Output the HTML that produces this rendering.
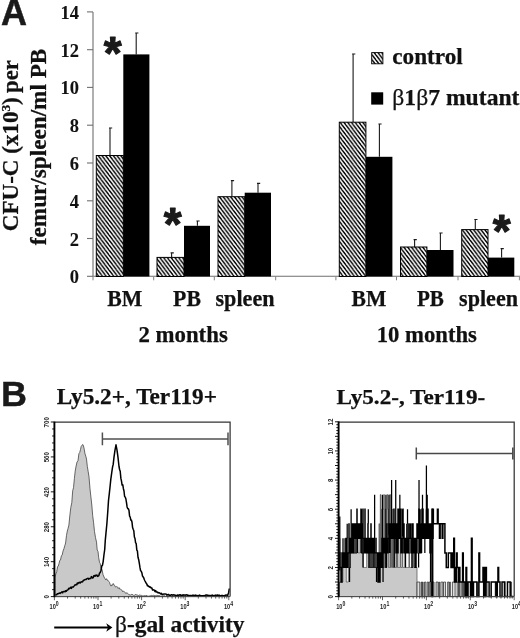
<!DOCTYPE html>
<html><head><meta charset="utf-8"><title>Figure</title>
<style>
html,body{margin:0;padding:0;background:#fff;}
svg{display:block;}
.tb{font-family:"Liberation Serif","DejaVu Serif",serif;font-weight:bold;fill:#111;stroke:#111;stroke-width:0.25px;}
.sb{font-family:"Liberation Sans","DejaVu Sans",sans-serif;font-weight:bold;fill:#1a1a1a;}
.sm{font-family:"Liberation Sans","DejaVu Sans",sans-serif;fill:#222;}
</style></head><body>
<svg width="520" height="638" viewBox="0 0 520 638">
<defs>
<pattern id="hatch" width="3.76" height="5" patternUnits="userSpaceOnUse">
<rect width="3.76" height="5" fill="#fff"/>
<path d="M-3.76,-5 L3.76,5 M0,-5 L7.52,5 M-7.52,-5 L0,5" stroke="#000" stroke-width="1.45"/>
</pattern>
</defs>
<rect width="520" height="638" fill="#fff"/>

<g stroke="#707070" stroke-width="1.1" fill="none">
<path d="M93,12.1 V276.3 H520"/>
<path d="M87,276.3 H93"/>
<path d="M87,238.5 H93"/>
<path d="M87,200.8 H93"/>
<path d="M87,163.0 H93"/>
<path d="M87,125.2 H93"/>
<path d="M87,87.4 H93"/>
<path d="M87,49.7 H93"/>
<path d="M87,11.9 H93"/>
</g>
<g stroke="#808080" stroke-width="1" fill="none">
<path d="M93,276.5 V280.3"/>
<path d="M153.7,276.5 V280.3"/>
<path d="M214.3,276.5 V280.3"/>
<path d="M275.7,276.5 V280.3"/>
<path d="M335.9,276.5 V280.3"/>
<path d="M396.5,276.5 V280.3"/>
<path d="M458,276.5 V280.3"/>
<path d="M519.4,276.5 V280.3"/>
</g>
<text class="tb" x="69.7" y="283.3" font-size="19.4" style="stroke-width:0.1px" textLength="9.25" lengthAdjust="spacingAndGlyphs">0</text>
<text class="tb" x="69.7" y="245.5" font-size="19.4" style="stroke-width:0.1px" textLength="9.25" lengthAdjust="spacingAndGlyphs">2</text>
<text class="tb" x="69.7" y="207.8" font-size="19.4" style="stroke-width:0.1px" textLength="9.25" lengthAdjust="spacingAndGlyphs">4</text>
<text class="tb" x="69.7" y="170.0" font-size="19.4" style="stroke-width:0.1px" textLength="9.25" lengthAdjust="spacingAndGlyphs">6</text>
<text class="tb" x="69.7" y="132.2" font-size="19.4" style="stroke-width:0.1px" textLength="9.25" lengthAdjust="spacingAndGlyphs">8</text>
<text class="tb" x="60.4" y="94.4" font-size="19.4" style="stroke-width:0.1px" textLength="18.5" lengthAdjust="spacingAndGlyphs">10</text>
<text class="tb" x="60.4" y="56.7" font-size="19.4" style="stroke-width:0.1px" textLength="18.5" lengthAdjust="spacingAndGlyphs">12</text>
<text class="tb" x="60.4" y="18.9" font-size="19.4" style="stroke-width:0.1px" textLength="18.5" lengthAdjust="spacingAndGlyphs">14</text>
<path d="M110,155.5 V128 M109,128 H112.2" stroke="#1a1a1a" stroke-width="1.1" fill="none"/>
<rect x="96.3" y="155.5" width="27.0" height="121.0" fill="url(#hatch)" stroke="#000" stroke-width="1"/>
<path d="M136.2,54.4 V33 M135.2,33 H138.39999999999998" stroke="#1a1a1a" stroke-width="1.1" fill="none"/>
<rect x="123.3" y="54.4" width="26.1" height="222.1" fill="#000"/>
<path d="M171.6,257.4 V252.9 M170.6,252.9 H173.79999999999998" stroke="#1a1a1a" stroke-width="1.1" fill="none"/>
<rect x="157" y="257.4" width="27.0" height="19.1" fill="url(#hatch)" stroke="#000" stroke-width="1"/>
<path d="M197.4,225.8 V221 M196.4,221 H199.6" stroke="#1a1a1a" stroke-width="1.1" fill="none"/>
<rect x="184" y="225.8" width="26.0" height="50.7" fill="#000"/>
<path d="M231.9,196.7 V180.6 M230.9,180.6 H234.1" stroke="#1a1a1a" stroke-width="1.1" fill="none"/>
<rect x="218" y="196.7" width="26.7" height="79.8" fill="url(#hatch)" stroke="#000" stroke-width="1"/>
<path d="M258,192.7 V183.4 M257,183.4 H260.2" stroke="#1a1a1a" stroke-width="1.1" fill="none"/>
<rect x="244.7" y="192.7" width="26.3" height="83.8" fill="#000"/>
<path d="M353.1,122.2 V54 M352.1,54 H355.3" stroke="#1a1a1a" stroke-width="1.1" fill="none"/>
<rect x="339.3" y="122.2" width="26.6" height="154.3" fill="url(#hatch)" stroke="#000" stroke-width="1"/>
<path d="M379.4,156.8 V124 M378.4,124 H381.59999999999997" stroke="#1a1a1a" stroke-width="1.1" fill="none"/>
<rect x="365.9" y="156.8" width="26.5" height="119.7" fill="#000"/>
<path d="M414.6,247 V239.6 M413.6,239.6 H416.8" stroke="#1a1a1a" stroke-width="1.1" fill="none"/>
<rect x="400.5" y="247" width="26.4" height="29.5" fill="url(#hatch)" stroke="#000" stroke-width="1"/>
<path d="M440.4,250 V233 M439.4,233 H442.59999999999997" stroke="#1a1a1a" stroke-width="1.1" fill="none"/>
<rect x="426.9" y="250" width="26.6" height="26.5" fill="#000"/>
<path d="M475.3,229.6 V219.5 M474.3,219.5 H477.5" stroke="#1a1a1a" stroke-width="1.1" fill="none"/>
<rect x="461.7" y="229.6" width="26.3" height="46.9" fill="url(#hatch)" stroke="#000" stroke-width="1"/>
<path d="M501.6,257.6 V248.6 M500.6,248.6 H503.8" stroke="#1a1a1a" stroke-width="1.1" fill="none"/>
<rect x="488" y="257.6" width="26.3" height="18.9" fill="#000"/>
<text class="sb" x="112.8" y="69" font-size="46" text-anchor="middle" stroke="#1a1a1a" stroke-width="1.1" stroke-linejoin="round">*</text>
<text class="sb" x="172.6" y="240.3" font-size="46" text-anchor="middle" stroke="#1a1a1a" stroke-width="1.1" stroke-linejoin="round">*</text>
<text class="sb" x="501.8" y="246.5" font-size="46" text-anchor="middle" stroke="#1a1a1a" stroke-width="1.1" stroke-linejoin="round">*</text>
<rect x="371.7" y="52.6" width="11.2" height="11.2" fill="url(#hatch)" stroke="#000" stroke-width="0.9"/>
<rect x="371.2" y="92.3" width="12" height="12.3" fill="#000"/>
<text class="tb" x="392.3" y="64.2" font-size="23.5" textLength="70.5" lengthAdjust="spacingAndGlyphs">control</text>
<text class="tb" x="392.3" y="105" font-size="23.5" textLength="127.2" lengthAdjust="spacingAndGlyphs"><tspan font-weight="normal">β</tspan>1<tspan font-weight="normal">β</tspan>7 mutant</text>
<text class="tb" x="107.3" y="306.4" font-size="22.3" textLength="35.0" lengthAdjust="spacingAndGlyphs">BM</text>
<text class="tb" x="173.1" y="306.4" font-size="22.3" textLength="27.8" lengthAdjust="spacingAndGlyphs">PB</text>
<text class="tb" x="215.5" y="306.4" font-size="22.3" textLength="59.0" lengthAdjust="spacingAndGlyphs">spleen</text>
<text class="tb" x="138.4" y="342.3" font-size="22.8" textLength="89.4" lengthAdjust="spacingAndGlyphs">2 months</text>
<text class="tb" x="351.6" y="306.4" font-size="22.3" textLength="34.8" lengthAdjust="spacingAndGlyphs">BM</text>
<text class="tb" x="416.9" y="306.4" font-size="22.3" textLength="27.0" lengthAdjust="spacingAndGlyphs">PB</text>
<text class="tb" x="459.1" y="306.4" font-size="22.3" textLength="58.9" lengthAdjust="spacingAndGlyphs">spleen</text>
<text class="tb" x="376.7" y="342.3" font-size="22.8" textLength="100.2" lengthAdjust="spacingAndGlyphs">10 months</text>
<text class="tb" transform="translate(17.6,231.2) rotate(-90)" font-size="22.5" textLength="134" lengthAdjust="spacingAndGlyphs">CFU-C (x10<tspan font-size="13" dy="-8">3</tspan><tspan dy="8">)</tspan></text>
<text class="tb" transform="translate(17.6,92.9) rotate(-90)" font-size="22.5" textLength="32.6" lengthAdjust="spacingAndGlyphs">per</text>
<text class="tb" transform="translate(45.8,245.2) rotate(-90)" font-size="22.5" textLength="196.5" lengthAdjust="spacingAndGlyphs">femur/spleen/ml PB</text>
<text class="sb" x="1.1" y="24.5" font-size="36.5" textLength="26" lengthAdjust="spacingAndGlyphs" stroke="#1a1a1a" stroke-width="0.5">A</text>
<text class="sb" x="1" y="406.3" font-size="34.3" textLength="26" lengthAdjust="spacingAndGlyphs" stroke="#1a1a1a" stroke-width="0.4">B</text>
<text class="tb" x="56.8" y="403.6" font-size="22.3" textLength="160.2" lengthAdjust="spacingAndGlyphs">Ly5.2+, Ter119+</text>
<text class="tb" x="336.5" y="403.8" font-size="22" textLength="148.7" lengthAdjust="spacingAndGlyphs">Ly5.2-, Ter119-</text>
<path d="M55,596.6 L55.0,577.5 L55.9,573.6 L56.7,571.8 L57.6,566.5 L58.3,566.1 L59.0,563.5 L59.8,560.4 L60.5,560.0 L61.4,555.8 L62.2,555.0 L63.0,551.1 L63.9,548.8 L64.8,545.7 L65.6,543.0 L66.5,535.3 L67.3,531.1 L68.1,528.3 L68.9,525.1 L69.8,515.9 L70.8,507.5 L71.8,502.6 L72.7,490.7 L73.5,487.7 L74.4,478.4 L75.2,471.1 L76.1,466.1 L77.0,462.1 L78.0,460.6 L78.9,453.7 L79.7,452.5 L80.5,449.6 L81.2,446.4 L82.0,445.2 L82.8,444.5 L83.5,446.0 L84.2,449.1 L85.0,453.8 L85.8,456.2 L86.5,459.1 L87.3,466.3 L88.2,471.7 L89.0,476.9 L90.0,488.8 L91.0,497.9 L91.8,505.0 L92.7,515.7 L93.6,522.8 L94.5,531.7 L95.5,537.6 L96.5,542.1 L97.2,550.0 L98.0,551.4 L98.7,557.7 L99.5,562.3 L100.2,563.4 L101.0,568.0 L102.0,569.5 L103.0,574.5 L104.0,577.0 L105.0,578.7 L105.8,579.9 L106.5,578.7 L107.2,580.2 L108.0,580.3 L108.8,581.5 L109.5,582.4 L110.2,584.6 L111.0,586.1 L111.8,584.8 L112.5,585.2 L113.2,583.5 L114.0,585.0 L114.7,585.5 L115.4,586.9 L116.1,587.1 L116.8,586.4 L117.5,587.2 L118.2,588.5 L119.0,587.6 L119.8,589.2 L120.5,589.2 L121.2,589.7 L122.0,590.2 L122.8,591.9 L123.6,591.1 L124.4,591.8 L125.2,592.4 L126.0,593.6 L126.8,592.6 L127.6,593.5 L128.4,594.0 L129.2,594.8 L130.0,595.0 L130.7,595.1 L131.4,594.3 L132.1,594.6 L132.9,594.6 L133.6,595.4 L134.3,595.5 L135.0,594.5 L135.7,594.6 L136.4,594.8 L137.1,594.9 L137.9,595.3 L138.6,595.5 L139.3,595.1 L140.0,594.9 L140.7,595.4 L141.4,595.4 L142.1,595.6 L142.9,596.1 L143.6,595.8 L144.3,595.6 L145.0,595.8 L145.7,595.9 L146.4,595.1 L147.1,596.2 L147.9,596.0 L148.6,596.2 L149.3,596.1 L150.0,595.6 L150.7,595.7 L151.4,595.3 L152.1,596.0 L152.9,595.3 L153.6,595.3 L154.3,595.5 L155.0,595.5 L155.7,595.7 L156.4,595.4 L157.1,595.4 L157.9,595.6 L158.6,595.5 L159.3,595.8 L160.0,595.5 L160.7,596.3 L161.4,596.1 L162.1,595.6 L162.8,595.7 L163.5,595.8 L164.2,595.9 L164.9,595.6 L165.6,596.3 L166.3,596.3 L167.0,596.0 L167.7,596.0 L168.4,595.6 L169.2,595.6 L169.9,595.8 L170.6,595.7 L171.3,596.3 L172.0,595.6 L172.7,595.5 L173.4,596.3 L174.1,596.0 L174.8,595.6 L175.5,596.0 L176.2,595.5 L176.9,596.0 L177.6,596.3 L178.3,596.3 L179.0,596.2 L179.7,595.7 L180.4,595.9 L181.1,595.6 L181.8,596.3 L182.5,596.0 L183.2,596.3 L183.9,595.8 L184.6,595.7 L185.3,596.3 L186.1,596.3 L186.8,596.3 L187.5,596.3 L188.2,596.3 L188.9,596.3 L189.6,595.7 L190.3,596.0 L191.0,595.8 L191.7,595.5 L192.4,595.5 L193.1,595.8 L193.8,595.7 L194.5,596.2 L195.2,596.3 L195.9,595.9 L196.6,596.3 L197.3,596.3 L198.0,596.3 L198.7,595.9 L199.4,595.7 L200.1,595.7 L200.8,595.7 L201.5,595.7 L202.2,596.1 L202.9,596.3 L203.7,596.3 L204.4,596.0 L205.1,596.2 L205.8,596.3 L206.5,595.5 L207.2,596.2 L207.9,596.3 L208.6,596.3 L209.3,596.3 L210.0,596.0 L210.7,595.7 L211.4,596.3 L212.1,595.8 L212.8,596.3 L213.5,596.3 L214.2,595.9 L214.9,595.9 L215.6,596.3 L216.3,596.2 L217.0,595.6 L217.7,595.6 L218.4,595.6 L219.1,596.3 L219.8,596.3 L220.6,595.6 L221.3,596.3 L222.0,596.3 L222.7,596.2 L223.4,595.8 L224.1,596.1 L224.8,595.6 L225.5,595.5 L226.2,596.3 L226.9,596.2 L227.6,596.0 L228.3,596.3 L229.0,596.0 L229,596.6 Z" fill="#c9c9c9" stroke="#444" stroke-width="0.8" stroke-linejoin="round"/>
<path d="M55.5,594.4 L56.1,594.8 L56.8,594.7 L57.4,593.7 L58.0,593.7 L58.7,593.5 L59.3,593.1 L60.0,593.4 L60.7,592.7 L61.3,592.6 L62.0,591.9 L62.6,592.8 L63.2,591.7 L63.8,591.6 L64.4,591.5 L65.1,591.8 L65.7,590.7 L66.3,591.3 L66.9,590.3 L67.5,590.1 L68.1,589.7 L68.8,588.4 L69.4,588.8 L70.1,588.0 L70.7,587.3 L71.4,588.4 L72.0,586.9 L72.7,586.9 L73.3,587.0 L74.0,586.1 L74.7,585.1 L75.3,585.0 L76.0,584.6 L76.7,584.8 L77.3,583.0 L78.0,583.6 L78.7,582.6 L79.3,582.3 L80.0,583.1 L80.7,582.1 L81.3,581.8 L82.0,581.9 L82.7,581.8 L83.3,580.3 L84.0,580.3 L84.7,579.7 L85.4,579.4 L86.1,579.6 L86.8,578.7 L87.5,578.6 L88.1,578.2 L88.8,579.2 L89.4,578.4 L90.1,578.6 L90.7,578.6 L91.4,576.6 L92.0,577.2 L92.6,578.0 L93.2,577.7 L93.8,575.7 L94.4,575.6 L95.1,576.3 L95.7,575.2 L96.3,575.5 L96.9,575.0 L97.5,576.4 L98.2,576.1 L98.8,575.7 L99.5,573.1 L100.2,572.6 L101.0,570.5 L101.8,565.9 L102.5,565.2 L103.2,561.3 L104.0,554.5 L104.7,549.7 L105.3,540.1 L106.0,532.9 L106.9,523.5 L107.8,511.3 L108.5,500.6 L109.3,493.7 L110.0,487.1 L110.8,479.4 L111.7,472.8 L112.5,467.3 L113.2,464.4 L114.0,457.1 L115.0,450.2 L116.0,444.8 L117.0,450.1 L118.0,457.3 L119.0,466.5 L119.6,469.5 L120.2,471.3 L120.9,478.4 L121.5,481.2 L122.1,485.1 L122.8,484.8 L123.4,488.7 L124.0,491.0 L124.6,496.5 L125.2,497.0 L125.9,499.0 L126.5,502.7 L127.1,506.9 L127.8,508.8 L128.4,508.8 L129.0,510.6 L129.6,516.1 L130.2,517.1 L130.8,520.0 L131.4,520.0 L132.0,522.2 L132.6,527.6 L133.2,529.3 L133.8,530.7 L134.4,537.0 L135.0,538.5 L135.6,542.8 L136.2,543.6 L136.8,550.1 L137.4,550.9 L138.0,557.2 L138.7,559.7 L139.3,563.2 L140.0,567.7 L140.6,570.9 L141.2,571.1 L141.9,572.9 L142.5,576.1 L143.1,576.8 L143.8,578.0 L144.4,579.7 L145.0,581.0 L145.6,582.1 L146.2,583.2 L146.8,584.0 L147.4,585.7 L148.0,585.6 L148.6,586.5 L149.3,586.4 L149.9,587.2 L150.6,587.1 L151.2,588.0 L151.9,588.1 L152.5,589.9 L153.1,589.9 L153.8,589.7 L154.4,590.5 L155.1,591.6 L155.7,590.6 L156.4,592.1 L157.0,591.9 L157.6,592.2 L158.2,593.0 L158.9,592.5 L159.5,592.9 L160.1,593.4 L160.8,594.0 L161.4,593.4 L162.0,594.2 L162.6,594.2 L163.2,594.2 L163.8,594.1 L164.4,594.1 L165.1,593.9 L165.7,594.1 L166.3,594.2 L166.9,595.2 L167.5,594.7 L168.1,594.6 L168.8,594.5 L169.4,595.4 L170.0,595.5 L170.6,595.3 L171.2,594.8 L171.9,594.8 L172.5,594.9 L173.1,595.1 L173.8,594.8 L174.4,595.1 L175.0,594.9 L175.6,595.7 L176.2,595.7 L176.9,595.3 L177.5,595.0 L178.1,595.8 L178.8,595.1 L179.4,595.1 L180.0,594.7 L180.6,595.2 L181.2,595.3 L181.8,595.3 L182.4,595.0 L183.0,595.3 L183.6,594.8 L184.2,595.1 L184.8,594.9 L185.5,595.2 L186.1,594.9 L186.7,594.8 L187.3,595.2 L187.9,595.1 L188.5,595.5 L189.1,595.4 L189.7,595.7 L190.3,595.6 L190.9,595.6 L191.5,595.8 L192.1,595.3 L192.7,595.2 L193.3,596.0 L193.9,595.1 L194.5,595.7 L195.2,595.6 L195.8,595.0 L196.4,595.8 L197.0,595.9 L197.6,595.6 L198.2,595.7 L198.8,595.8 L199.4,595.1 L200.0,595.5 L200.6,595.5 L201.2,595.9 L201.8,595.8 L202.4,595.8 L203.1,595.6 L203.7,595.9 L204.3,595.7 L204.9,595.7 L205.5,595.2 L206.1,595.0 L206.7,595.1 L207.3,595.4 L207.9,595.1 L208.6,595.9 L209.2,595.6 L209.8,595.6 L210.4,595.6 L211.0,595.7 L211.6,595.5 L212.2,595.0 L212.8,595.8 L213.4,595.8 L214.1,595.5 L214.7,595.5 L215.3,595.7 L215.9,595.0 L216.5,595.8 L217.1,595.2 L217.7,595.0 L218.3,595.3 L218.9,595.7 L219.6,595.2 L220.2,595.8 L220.8,596.0 L221.4,595.5 L222.0,595.4 L222.6,595.5 L223.2,595.7 L223.8,595.8 L224.4,595.6 L225.1,595.7 L225.7,595.0 L226.3,595.1 L226.9,595.2 L227.5,595.8 L228.6,592.7 L229.3,588.5" fill="none" stroke="#000" stroke-width="1.5" stroke-linejoin="round"/>
<path d="M102.4,438.9 H228 M102.4,432.6 V445.2 M228,432.6 V445.2" stroke="#505050" stroke-width="1.5" fill="none"/>
<path d="M54.4,422.2 H230.1 V596.6" stroke="#333" stroke-width="1.25" fill="none"/>
<path d="M54.4,596.6 H230.1" stroke="#4a4a4a" stroke-width="1" fill="none"/>
<path d="M54.4,421.6 V597.2" stroke="#000" stroke-width="1.9" fill="none"/>
<path d="M50.8,596.60 H54.4 M52.1,589.62 H54.4 M52.1,582.63 H54.4 M52.1,575.65 H54.4 M52.1,568.66 H54.4 M50.8,561.68 H54.4 M52.1,554.70 H54.4 M52.1,547.71 H54.4 M52.1,540.73 H54.4 M52.1,533.74 H54.4 M50.8,526.76 H54.4 M52.1,519.78 H54.4 M52.1,512.79 H54.4 M52.1,505.81 H54.4 M52.1,498.82 H54.4 M50.8,491.84 H54.4 M52.1,484.86 H54.4 M52.1,477.87 H54.4 M52.1,470.89 H54.4 M52.1,463.90 H54.4 M50.8,456.92 H54.4 M52.1,449.94 H54.4 M52.1,442.95 H54.4 M52.1,435.97 H54.4 M52.1,428.98 H54.4 M50.8,422.00 H54.4 " stroke="#000" stroke-width="0.9" fill="none"/>
<text class="sm" transform="translate(48.699999999999996,596.9) rotate(-90) scale(0.84,1)" font-size="7.3" font-weight="bold" text-anchor="middle">0</text>
<text class="sm" transform="translate(48.699999999999996,562.0) rotate(-90) scale(0.84,1)" font-size="7.3" font-weight="bold" text-anchor="middle">140</text>
<text class="sm" transform="translate(48.699999999999996,527.1) rotate(-90) scale(0.84,1)" font-size="7.3" font-weight="bold" text-anchor="middle">280</text>
<text class="sm" transform="translate(48.699999999999996,492.1) rotate(-90) scale(0.84,1)" font-size="7.3" font-weight="bold" text-anchor="middle">420</text>
<text class="sm" transform="translate(48.699999999999996,457.2) rotate(-90) scale(0.84,1)" font-size="7.3" font-weight="bold" text-anchor="middle">560</text>
<text class="sm" transform="translate(48.699999999999996,422.3) rotate(-90) scale(0.84,1)" font-size="7.3" font-weight="bold" text-anchor="middle">700</text>
<path d="M54.40,596.6 V600.2 M67.52,596.6 V598.6 M75.20,596.6 V598.6 M80.65,596.6 V598.6 M84.88,596.6 V598.6 M88.33,596.6 V598.6 M91.25,596.6 V598.6 M93.77,596.6 V598.6 M96.00,596.6 V598.6 M98.00,596.6 V600.2 M111.12,596.6 V598.6 M118.80,596.6 V598.6 M124.25,596.6 V598.6 M128.48,596.6 V598.6 M131.93,596.6 V598.6 M134.85,596.6 V598.6 M137.37,596.6 V598.6 M139.60,596.6 V598.6 M141.60,596.6 V600.2 M154.72,596.6 V598.6 M162.40,596.6 V598.6 M167.85,596.6 V598.6 M172.08,596.6 V598.6 M175.53,596.6 V598.6 M178.45,596.6 V598.6 M180.97,596.6 V598.6 M183.20,596.6 V598.6 M185.20,596.6 V600.2 M198.32,596.6 V598.6 M206.00,596.6 V598.6 M211.45,596.6 V598.6 M215.68,596.6 V598.6 M219.13,596.6 V598.6 M222.05,596.6 V598.6 M224.57,596.6 V598.6 M226.80,596.6 V598.6 M228.80,596.6 V600.2 " stroke="#222" stroke-width="0.7" fill="none"/>
<text class="sm" transform="translate(49.5,608.5) scale(0.7,1)" font-size="8.1" font-weight="bold">10<tspan font-size="7.4" dy="-3">0</tspan></text>
<text class="sm" transform="translate(93.1,608.5) scale(0.7,1)" font-size="8.1" font-weight="bold">10<tspan font-size="7.4" dy="-3">1</tspan></text>
<text class="sm" transform="translate(136.7,608.5) scale(0.7,1)" font-size="8.1" font-weight="bold">10<tspan font-size="7.4" dy="-3">2</tspan></text>
<text class="sm" transform="translate(180.3,608.5) scale(0.7,1)" font-size="8.1" font-weight="bold">10<tspan font-size="7.4" dy="-3">3</tspan></text>
<text class="sm" transform="translate(223.9,608.5) scale(0.7,1)" font-size="8.1" font-weight="bold">10<tspan font-size="7.4" dy="-3">4</tspan></text>
<path d="M54.2,627.5 H109" stroke="#000" stroke-width="1.8" fill="none"/>
<path d="M112.4,627.5 L106.2,623.3 L108,627.5 L106.2,631.7 Z" fill="#000"/>
<text class="tb" x="115" y="631.7" font-size="22.8" textLength="129.5" lengthAdjust="spacingAndGlyphs"><tspan font-weight="normal">β</tspan>-gal activity</text>
<path d="M339.50,596.6 V582.03 H340.18 V582.03 H340.86 V582.03 H341.54 V582.03 H342.22 V582.03 H342.90 V567.47 H343.58 V567.47 H344.26 V567.47 H344.94 V567.47 H345.62 V567.47 H346.30 V582.03 H346.98 V582.03 H347.66 V582.03 H348.34 V552.90 H349.02 V552.90 H349.70 V552.90 H350.38 V552.90 H351.06 V552.90 H351.74 V552.90 H352.42 V538.33 H353.10 V552.90 H353.78 V552.90 H354.46 V552.90 H355.14 V552.90 H355.82 V552.90 H356.50 V552.90 H357.18 V523.77 H357.86 V552.90 H358.54 V552.90 H359.22 V552.90 H359.90 V538.33 H360.58 V552.90 H361.26 V552.90 H361.94 V552.90 H362.62 V552.90 H363.30 V567.47 H363.98 V567.47 H364.66 V567.47 H365.34 V567.47 H366.02 V567.47 H366.70 V552.90 H367.38 V552.90 H368.06 V552.90 H368.74 V552.90 H369.42 V567.47 H370.10 V567.47 H370.78 V567.47 H371.46 V567.47 H372.14 V567.47 H372.82 V567.47 H373.50 V552.90 H374.18 V567.47 H374.86 V567.47 H375.54 V567.47 H376.22 V567.47 H376.90 V567.47 H377.58 V567.47 H378.26 V567.47 H378.94 V523.77 H379.62 V567.47 H380.30 V494.63 H380.98 V567.47 H381.66 V509.20 H382.34 V567.47 H383.02 V509.20 H383.71 V494.63 H384.39 V567.47 H385.07 V509.20 H385.75 V567.47 H386.43 V523.77 H387.11 V494.63 H387.79 V509.20 H388.47 V567.47 H389.15 V567.47 H389.83 V494.63 H390.51 V567.47 H391.19 V523.77 H391.87 V567.47 H392.55 V509.20 H393.23 V567.47 H393.91 V523.77 H394.59 V567.47 H395.27 V567.47 H395.95 V538.33 H396.63 V567.47 H397.31 V523.77 H397.99 V567.47 H398.67 V567.47 H399.35 V567.47 H400.03 V538.33 H400.71 V567.47 H401.39 V567.47 H402.07 V552.90 H402.75 V567.47 H403.43 V567.47 H404.11 V567.47 H404.79 V538.33 H405.47 V567.47 H406.15 V567.47 H406.83 V567.47 H407.51 V567.47 H408.19 V567.47 H408.87 V552.90 H409.55 V567.47 H410.23 V567.47 H410.91 V567.47 H411.59 V567.47 H412.27 V567.47 H412.95 V552.90 H413.63 V567.47 H414.31 V567.47 H414.99 V567.47 H415.67 V567.47 H416.35 V567.47 H417.03 V596.6 Z" fill="#c9c9c9" stroke="#333" stroke-width="0.6"/>
<path d="M417.03,596.6 V582.03 H417.71 V582.03 H418.39 V582.03 H419.07 V582.03 H419.75 V596.60 H420.43 V596.60 H421.11 V582.03 H421.79 V596.60 H422.47 V582.03 H423.15 V596.60 H423.83 V596.60 H424.51 V582.03 H425.19 V582.03 H425.87 V596.60 H426.55 V596.60 H427.23 V582.03 H427.91 V582.03 H428.59 V596.60 H429.27 V582.03 H429.95 V582.03 H430.63 V596.60 H431.31 V582.03 H431.99 V596.60 H432.67 V582.03 H433.35 V582.03 H434.03 V596.60 H434.71 V596.60 H435.39 V596.60 H436.07 V582.03 H436.75 V582.03 H437.43 V582.03 H438.11 V596.60 H438.79 V582.03 H439.47 V596.60 H440.15 V596.60 H440.83 V582.03 H441.51 V582.03 H442.19 V582.03 H442.87 V596.60 H443.55 V582.03 H444.23 V582.03 H444.91 V582.03 H445.59 V596.60 H446.27 V596.60 H446.95 V596.60 H447.63 V582.03 H448.31 V582.03 H448.99 V596.60 H449.67 V582.03 H450.35 V596.60 H451.03 V596.60 H451.71 V596.60 H452.39 V582.03 H453.07 V582.03 H453.75 V582.03 H454.43 V582.03 H455.11 V596.60 H455.79 V596.60 H456.47 V596.60 H457.15 V582.03 H457.83 V582.03 H458.51 V596.60 H459.19 V582.03 H459.87 V596.60 H460.55 V596.60 H461.23 V582.03 H461.91 V582.03 H462.59 V596.60 H463.27 V582.03 H463.95 V596.60 H464.63 V582.03 H465.31 V582.03 H465.99 V596.60 H466.67 V596.60 H467.35 V596.60 H468.03 V596.60 H468.71 V596.60 H469.39 V596.60 H470.08 V582.03 H470.76 V582.03 H471.44 V596.60 H472.12 V596.60 H472.80 V596.60 H473.48 V596.60 H474.16 V596.60 H474.84 V596.60 H475.52 V596.60 H476.20 V596.60 H476.88 V596.60 H477.56 V582.03 H478.24 V596.60 H478.92 V596.60 H479.60 V596.60 H480.28 V596.60 H480.96 V596.60 H481.64 V596.60 H482.32 V596.60 H483.00 V596.60 H483.68 V596.60 H484.36 V596.60 H485.04 V596.60 H485.72 V596.60 H486.40 V582.03 H487.08 V596.60 H487.76 V596.60 H488.44 V596.60 H489.12 V596.60 H489.80 V596.60 H490.48 V596.60 H491.16 V596.60 H491.84 V596.60 H492.52 V596.60 H493.20 V596.60 H493.88 V596.60 H494.56 V596.60 H495.24 V582.03 H495.92 V596.60 H496.60 V596.60 H497.28 V596.60 H497.96 V596.60 H498.64 V596.60 H499.32 V596.60 H500.00 V596.60 H500.68 V596.60 H501.36 V596.60 H502.04 V596.60 H502.72 V596.60 H503.40 V596.60 H504.08 V582.03 H504.76 V596.60 H505.44 V596.60 H506.12 V596.60 H506.80 V596.60 H507.48 V596.60 H508.16 V596.60 H508.84 V596.60 H509.52 V596.60 H510.20 V596.60 H510.88 V582.03 H511.56 V596.60 H512.24 V596.60 H512.92 V596.60 H513.60 V596.6 Z" fill="#dedede" stroke="#2a2a2a" stroke-width="0.75"/>
<path d="M339.50,568.07 V552.30 M340.50,582.63 V566.87 M341.50,582.63 V552.30 M342.50,568.07 V552.30 M343.50,568.07 V552.30 M344.50,568.07 V552.30 M345.50,568.07 V537.73 M346.50,568.07 V537.73 M347.50,568.07 V552.30 M348.50,553.50 V523.17 M349.50,568.07 V537.73 M350.50,553.50 V537.73 M351.50,553.50 V523.17 M352.50,553.50 V523.17 M353.50,553.50 V523.17 M354.50,538.93 V523.17 M355.50,553.50 V523.17 M356.50,538.93 V508.60 M357.50,538.93 V523.17 M358.50,538.93 V523.17 M359.50,538.93 V523.17 M360.50,538.93 V508.60 M361.50,553.50 V523.17 M362.50,538.93 V508.60 M363.50,553.50 V537.73 M364.50,553.50 V508.60 M365.50,553.50 V537.73 M366.50,553.50 V537.73 M367.50,553.50 V523.17 M368.50,568.07 V537.73 M369.50,553.50 V537.73 M370.50,568.07 V523.17 M371.50,553.50 V537.73 M372.50,568.07 V537.73 M373.50,553.50 V537.73 M374.50,568.07 V552.30 M375.50,553.50 V537.73 M376.50,568.07 V552.30 M377.50,582.63 V552.30 M378.50,582.63 V552.30 M379.50,582.63 V552.30 M380.50,568.07 V552.30 M381.50,568.07 V537.73 M382.50,568.07 V537.73 M383.50,553.50 V537.73 M384.50,553.50 V537.73 M385.50,568.07 V537.73 M386.50,553.50 V523.17 M387.50,553.50 V537.73 M388.50,538.93 V523.17 M389.50,538.93 V523.17 M390.50,538.93 V523.17 M391.50,538.93 V523.17 M392.50,538.93 V523.17 M393.50,538.93 V508.60 M394.50,538.93 V523.17 M395.50,553.50 V523.17 M396.50,553.50 V523.17 M397.50,553.50 V508.60 M398.50,538.93 V508.60 M399.50,538.93 V508.60 M400.50,553.50 V508.60 M401.50,553.50 V537.73 M402.50,538.93 V508.60 M403.50,553.50 V523.17 M404.50,553.50 V537.73 M405.50,553.50 V537.73 M406.50,553.50 V537.73 M407.50,553.50 V523.17 M408.50,553.50 V537.73 M409.50,538.93 V523.17 M410.50,553.50 V537.73 M411.50,568.07 V523.17 M412.50,553.50 V523.17 M413.50,553.50 V537.73 M414.50,568.07 V537.73 M415.50,568.07 V537.73 M416.50,553.50 V523.17 M417.50,538.93 V523.17 M418.50,553.50 V508.60 M419.50,553.50 V523.17 M420.50,553.50 V523.17 M421.50,538.93 V508.60 M422.50,538.93 V508.60 M423.50,538.93 V523.17 M424.50,538.93 V523.17 M425.50,538.93 V523.17 M426.50,538.93 V508.60 M427.50,538.93 V508.60 M428.50,538.93 V523.17 M429.50,553.50 V523.17 M430.50,553.50 V523.17 M431.50,538.93 V508.60 M432.50,538.93 V523.17 " stroke="#000" stroke-width="1.5" fill="none" transform="translate(0.5,0)"/>
<path d="M339.95,552.90 V538.33 M340.79,582.03 V582.03 M341.74,582.03 V582.03 M343.00,552.90 V538.33 M345.07,552.90 V538.33 M347.20,538.33 V523.77 M349.54,567.47 V582.03 M357.54,538.33 V552.90 M361.23,538.33 V552.90 M361.61,523.77 V509.20 M363.01,538.33 V567.47 M368.30,523.77 V509.20 M374.64,552.90 V523.77 M376.53,567.47 V582.03 M383.04,567.47 V582.03 M386.57,552.90 V567.47 M389.17,538.33 V552.90 M390.10,538.33 V552.90 M394.24,538.33 V567.47 M399.85,509.20 V494.63 M402.81,538.33 V552.90 M405.52,552.90 V567.47 M406.78,538.33 V523.77 M407.52,523.77 V509.20 M409.06,538.33 V523.77 M410.66,538.33 V523.77 M418.59,552.90 V567.47 M420.16,523.77 V509.20 M421.61,538.33 V552.90 M424.84,538.33 V552.90 M426.24,523.77 V509.20 M427.23,509.20 V494.63 M430.52,552.90 V582.03 M339.80,570.38 V516.48 M351.12,545.91 V509.20 M374.62,552.90 V494.63 M382.45,554.94 V494.63 M385.94,544.16 V494.63 M391.59,529.16 V480.07 M395.73,530.61 V480.07 M402.48,536.59 V509.20 M419.02,535.42 V480.07 M426.41,529.01 V465.50 M422.50,523.77 V494.63 M388.98,535.27 V494.63 " stroke="#000" stroke-width="1.25" fill="none"/>
<path d="M431.99,538.33 V596.60 H432.67 V509.20 H433.35 V523.77 H434.03 V523.77 H434.71 V523.77 H435.39 V523.77 H436.07 V523.77 H436.75 V523.77 H437.43 V509.20 H438.11 V523.77 H438.79 V523.77 H439.47 V538.33 H440.15 V523.77 H440.83 V523.77 H441.51 V523.77 H442.19 V538.33 H442.87 V523.77 H443.55 V523.77 H444.23 V523.77 H444.91 V552.90 H445.59 V552.90 H446.27 V567.47 H446.95 V567.47 H447.63 V567.47 H448.31 V552.90 H448.99 V552.90 H449.67 V552.90 H450.35 V552.90 H451.03 V567.47 H451.71 V552.90 H452.39 V567.47 H453.07 V567.47 H453.75 V538.33 H454.43 V582.03 H455.11 V567.47 H455.79 V582.03 H456.47 V552.90 H457.15 V567.47 H457.83 V567.47 H458.51 V582.03 H459.19 V567.47 H459.87 V582.03 H460.55 V582.03 H461.23 V582.03 H461.91 V582.03 H462.59 V552.90 H463.27 V582.03 H463.95 V582.03 H464.63 V582.03 H465.31 V596.60 H465.99 V567.47 H466.67 V596.60 H467.35 V596.60 H468.03 V582.03 H468.71 V582.03 H469.39 V582.03 H470.08 V582.03 H470.76 V596.60 H471.44 V538.33 H472.12 V596.60 H472.80 V596.60 H473.48 V582.03 H474.16 V582.03 H474.84 V582.03 H475.52 V582.03 H476.20 V582.03 H476.88 V596.60 H477.56 V596.60 H478.24 V596.60 H478.92 V552.90 H479.60 V582.03 H480.28 V582.03 H480.96 V582.03 H481.64 V582.03 H482.32 V582.03 H483.00 V567.47 H483.68 V596.60 H484.36 V567.47 H485.04 V596.60 H485.72 V567.47 H486.40 V582.03 H487.08 V582.03 H487.76 V582.03 H488.44 V582.03 H489.12 V596.60 H489.80 V596.60 H490.48 V596.60 H491.16 V582.03 H491.84 V582.03 H492.52 V582.03 H493.20 V582.03 H493.88 V582.03 H494.56 V582.03 H495.24 V582.03 H495.92 V596.60 H496.60 V596.60 H497.28 V582.03 H497.96 V567.47 H498.64 V582.03 H499.32 V582.03 H500.00 V596.60 H500.68 V596.60 H501.36 V596.60 H502.04 V582.03 H502.72 V582.03 H503.40 V582.03 H504.08 V582.03 H504.76 V596.60 H505.44 V596.60 H506.12 V596.60 H506.80 V596.60 H507.48 V582.03 H508.16 V582.03 H508.84 V582.03 H509.52 V582.03 H510.20 V596.60 H510.88 V596.60 H511.56 V596.60 H512.24 V596.60 H512.92 V596.60 H513.60 " fill="none" stroke="#000" stroke-width="1.5" stroke-linejoin="miter"/>
<path d="M416.3,453.6 H512.8 M416.3,447.6 V459.4 M512.8,447.6 V459.4" stroke="#484848" stroke-width="1.5" fill="none"/>
<path d="M338.6,422.0 H514.2 V596.6" stroke="#333" stroke-width="1.25" fill="none"/>
<path d="M338.6,596.6 H514.2" stroke="#4a4a4a" stroke-width="1" fill="none"/>
<path d="M338.6,421.40000000000003 V597.2" stroke="#000" stroke-width="1.9" fill="none"/>
<path d="M335.0,596.60 H338.6 M336.3,593.69 H338.6 M336.3,590.77 H338.6 M336.3,587.86 H338.6 M336.3,584.95 H338.6 M335.0,582.03 H338.6 M336.3,579.12 H338.6 M336.3,576.21 H338.6 M336.3,573.29 H338.6 M336.3,570.38 H338.6 M335.0,567.47 H338.6 M336.3,564.55 H338.6 M336.3,561.64 H338.6 M336.3,558.73 H338.6 M336.3,555.81 H338.6 M335.0,552.90 H338.6 M336.3,549.99 H338.6 M336.3,547.07 H338.6 M336.3,544.16 H338.6 M336.3,541.25 H338.6 M335.0,538.33 H338.6 M336.3,535.42 H338.6 M336.3,532.51 H338.6 M336.3,529.59 H338.6 M336.3,526.68 H338.6 M335.0,523.77 H338.6 M336.3,520.85 H338.6 M336.3,517.94 H338.6 M336.3,515.03 H338.6 M336.3,512.11 H338.6 M335.0,509.20 H338.6 M336.3,506.29 H338.6 M336.3,503.37 H338.6 M336.3,500.46 H338.6 M336.3,497.55 H338.6 M335.0,494.63 H338.6 M336.3,491.72 H338.6 M336.3,488.81 H338.6 M336.3,485.89 H338.6 M336.3,482.98 H338.6 M335.0,480.07 H338.6 M336.3,477.15 H338.6 M336.3,474.24 H338.6 M336.3,471.33 H338.6 M336.3,468.41 H338.6 M335.0,465.50 H338.6 M336.3,462.59 H338.6 M336.3,459.67 H338.6 M336.3,456.76 H338.6 M336.3,453.85 H338.6 M335.0,450.93 H338.6 M336.3,448.02 H338.6 M336.3,445.11 H338.6 M336.3,442.19 H338.6 M336.3,439.28 H338.6 M335.0,436.37 H338.6 M336.3,433.45 H338.6 M336.3,430.54 H338.6 M336.3,427.63 H338.6 M336.3,424.71 H338.6 M335.0,421.80 H338.6 " stroke="#000" stroke-width="0.9" fill="none"/>
<text class="sm" transform="translate(332.90000000000003,596.9) rotate(-90) scale(0.84,1)" font-size="7.3" font-weight="bold" text-anchor="middle">0</text>
<text class="sm" transform="translate(332.90000000000003,567.8) rotate(-90) scale(0.84,1)" font-size="7.3" font-weight="bold" text-anchor="middle">2</text>
<text class="sm" transform="translate(332.90000000000003,538.6) rotate(-90) scale(0.84,1)" font-size="7.3" font-weight="bold" text-anchor="middle">4</text>
<text class="sm" transform="translate(332.90000000000003,509.5) rotate(-90) scale(0.84,1)" font-size="7.3" font-weight="bold" text-anchor="middle">6</text>
<text class="sm" transform="translate(332.90000000000003,480.4) rotate(-90) scale(0.84,1)" font-size="7.3" font-weight="bold" text-anchor="middle">8</text>
<text class="sm" transform="translate(332.90000000000003,451.2) rotate(-90) scale(0.84,1)" font-size="7.3" font-weight="bold" text-anchor="middle">10</text>
<text class="sm" transform="translate(332.90000000000003,422.1) rotate(-90) scale(0.84,1)" font-size="7.3" font-weight="bold" text-anchor="middle">12</text>
<path d="M338.60,596.6 V600.2 M351.82,596.6 V598.6 M359.55,596.6 V598.6 M365.03,596.6 V598.6 M369.28,596.6 V598.6 M372.76,596.6 V598.6 M375.70,596.6 V598.6 M378.25,596.6 V598.6 M380.49,596.6 V598.6 M382.50,596.6 V600.2 M395.72,596.6 V598.6 M403.45,596.6 V598.6 M408.93,596.6 V598.6 M413.18,596.6 V598.6 M416.66,596.6 V598.6 M419.60,596.6 V598.6 M422.15,596.6 V598.6 M424.39,596.6 V598.6 M426.40,596.6 V600.2 M439.62,596.6 V598.6 M447.35,596.6 V598.6 M452.83,596.6 V598.6 M457.08,596.6 V598.6 M460.56,596.6 V598.6 M463.50,596.6 V598.6 M466.05,596.6 V598.6 M468.29,596.6 V598.6 M470.30,596.6 V600.2 M483.52,596.6 V598.6 M491.25,596.6 V598.6 M496.73,596.6 V598.6 M500.98,596.6 V598.6 M504.46,596.6 V598.6 M507.40,596.6 V598.6 M509.95,596.6 V598.6 M512.19,596.6 V598.6 M514.20,596.6 V600.2 " stroke="#222" stroke-width="0.7" fill="none"/>
<text class="sm" transform="translate(336.2,608.5) scale(0.7,1)" font-size="8.1" font-weight="bold">10<tspan font-size="7.4" dy="-3">0</tspan></text>
<text class="sm" transform="translate(380.1,608.5) scale(0.7,1)" font-size="8.1" font-weight="bold">10<tspan font-size="7.4" dy="-3">1</tspan></text>
<text class="sm" transform="translate(424.0,608.5) scale(0.7,1)" font-size="8.1" font-weight="bold">10<tspan font-size="7.4" dy="-3">2</tspan></text>
<text class="sm" transform="translate(467.9,608.5) scale(0.7,1)" font-size="8.1" font-weight="bold">10<tspan font-size="7.4" dy="-3">3</tspan></text>
<text class="sm" transform="translate(511.8,608.5) scale(0.7,1)" font-size="8.1" font-weight="bold">10<tspan font-size="7.4" dy="-3">4</tspan></text>
</svg></body></html>
